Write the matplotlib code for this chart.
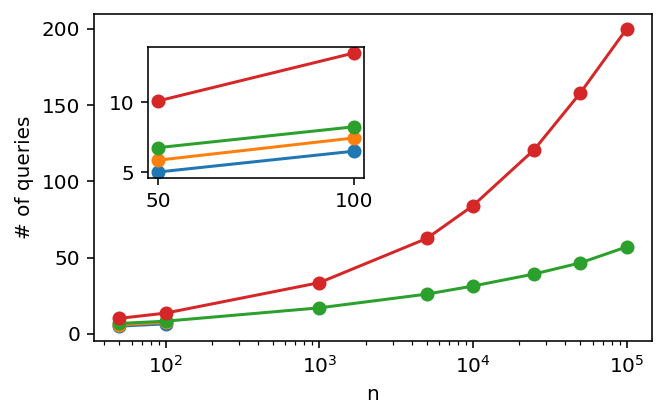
import matplotlib
matplotlib.use("Agg")
import matplotlib.pyplot as plt

n = [50, 100, 1000, 5000, 10000, 25000, 50000, 100000]
red = [10.1, 13.55, 33.5, 62.5, 84, 120.7, 158, 200]
green = [6.75, 8.25, 17, 26, 31.3, 39.2, 46.5, 57]
n_small = [50, 100]
blue = [5.0, 6.5]
orange = [5.85, 7.45]

fig = plt.figure(figsize=(666/144, 417/144), dpi=144)
ax = fig.add_axes([94/666, 1-341/417, 558/666, 327/417])
ax.plot(n_small, blue, 'o-', color='C0')
ax.plot(n_small, orange, 'o-', color='C1')
ax.plot(n, green, 'o-', color='C2')
ax.plot(n, red, 'o-', color='C3')
ax.set_xscale('log')
ax.set_xlabel('n')
ax.set_ylabel('# of queries')
ax.set_yticks([0, 50, 100, 150, 200])

ins = fig.add_axes([148/666, 1-178/417, 216/666, 131/417])
ins.plot(n_small, blue, 'o-', color='C0')
ins.plot(n_small, orange, 'o-', color='C1')
ins.plot(n_small, green[:2], 'o-', color='C2')
ins.plot(n_small, red[:2], 'o-', color='C3')
ins.set_xticks([50, 100])
ins.set_yticks([5, 10])

fig.savefig('out.png', dpi=144)
